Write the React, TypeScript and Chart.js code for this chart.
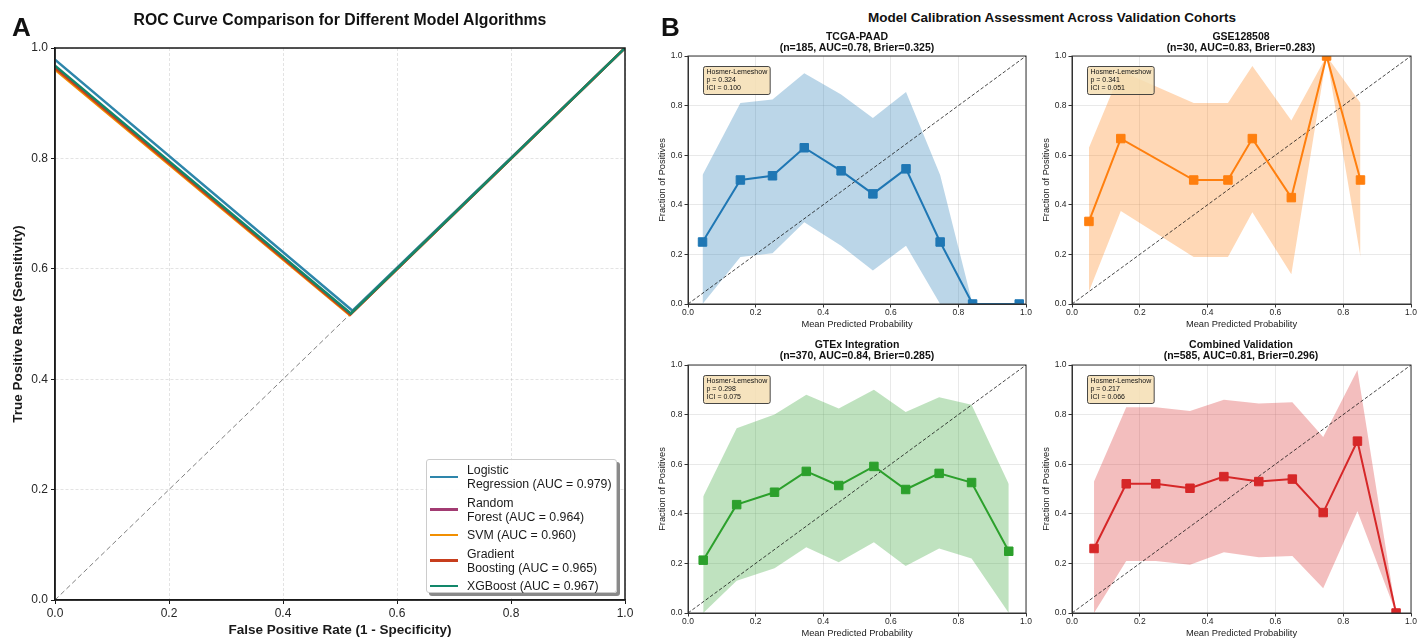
import React, { useEffect, useRef } from 'react';
import { Chart, registerables } from 'chart.js';

Chart.register(...registerables);

const FONT = '"Liberation Sans", Arial, Helvetica, sans-serif';
Chart.defaults.font.family = FONT;
Chart.defaults.color = '#262626';

// ---------------- Panel A : ROC data ----------------
const rocLegendLabels = [
  'Logistic\nRegression (AUC = 0.979)',
  'Random\nForest (AUC = 0.964)',
  'SVM (AUC = 0.960)',
  'Gradient\nBoosting (AUC = 0.965)',
  'XGBoost (AUC = 0.967)',
];
const rocColors = ['#2E86AB', '#A23B72', '#F18F01', '#C73E1D', '#12876A'];

const lrFPR = [0, 0.522, 1];
const lrTPR = [0.979, 0.524, 1];
const rfFPR = [0, 0.518, 1];
const rfTPR = [0.965, 0.518, 1];
const svmFPR = [0, 0.517, 1];
const svmTPR = [0.961, 0.516, 1];
const gbFPR = [0, 0.518, 1];
const gbTPR = [0.964, 0.517, 1];
const xgbFPR = [0, 0.519, 1];
const xgbTPR = [0.968, 0.519, 1];

const diagX = [0, 1];
const diagY = [0, 1];
const unitTicks = [0, 0.2, 0.4, 0.6, 0.8, 1.0];

// ---------------- Panel B : calibration data ----------------
const cohortNames = ['TCGA-PAAD', 'GSE128508', 'GTEx Integration', 'Combined Validation'];
const cohortN = [185, 30, 370, 585];
const cohortAUC = ['0.78', '0.83', '0.84', '0.81'];
const cohortBrier = ['0.325', '0.283', '0.285', '0.296'];
const hlP = ['0.324', '0.341', '0.298', '0.217'];
const hlICI = ['0.100', '0.051', '0.075', '0.066'];
const cohortColors = ['#1f77b4', '#ff7f0e', '#2ca02c', '#d62728'];
const cohortBands = ['rgba(31,119,180,0.3)', 'rgba(255,127,14,0.3)', 'rgba(44,160,44,0.3)', 'rgba(214,39,40,0.3)'];

const tcgaPred = [0.043, 0.155, 0.250, 0.344, 0.453, 0.547, 0.645, 0.746, 0.842, 0.980];
const tcgaFrac = [0.250, 0.500, 0.517, 0.630, 0.537, 0.444, 0.545, 0.250, 0.0, 0.0];
const tcgaLow = [0.0, 0.19, 0.205, 0.33, 0.235, 0.135, 0.235, 0.0, 0.0, 0.0];
const tcgaHigh = [0.52, 0.81, 0.825, 0.93, 0.845, 0.75, 0.855, 0.52, 0.0, 0.0];

const gsePred = [0.050, 0.144, 0.359, 0.460, 0.532, 0.647, 0.751, 0.851];
const gseFrac = [0.333, 0.667, 0.500, 0.500, 0.667, 0.429, 1.0, 0.500];
const gseLow = [0.05, 0.375, 0.19, 0.19, 0.37, 0.12, 1.0, 0.19];
const gseHigh = [0.63, 0.94, 0.81, 0.81, 0.96, 0.74, 1.0, 0.81];

const gtexPred = [0.045, 0.144, 0.256, 0.350, 0.446, 0.550, 0.644, 0.743, 0.839, 0.949];
const gtexFrac = [0.213, 0.437, 0.487, 0.571, 0.514, 0.591, 0.498, 0.563, 0.526, 0.249];
const gtexLow = [0.0, 0.13, 0.18, 0.265, 0.205, 0.285, 0.19, 0.26, 0.22, 0.0];
const gtexHigh = [0.47, 0.745, 0.80, 0.88, 0.825, 0.90, 0.81, 0.87, 0.84, 0.52];

const combPred = [0.065, 0.160, 0.247, 0.348, 0.448, 0.551, 0.650, 0.741, 0.842, 0.956];
const combFrac = [0.260, 0.521, 0.521, 0.503, 0.550, 0.530, 0.540, 0.405, 0.693, 0.0];
const combLow = [0.0, 0.21, 0.21, 0.195, 0.245, 0.225, 0.23, 0.10, 0.41, 0.0];
const combHigh = [0.53, 0.83, 0.83, 0.815, 0.86, 0.845, 0.85, 0.71, 0.98, 0.0];

const cohortPred = [tcgaPred, gsePred, gtexPred, combPred];
const cohortFrac = [tcgaFrac, gseFrac, gtexFrac, combFrac];
const cohortLow = [tcgaLow, gseLow, gtexLow, combLow];
const cohortHigh = [tcgaHigh, gseHigh, gtexHigh, combHigh];

// ---------------- helpers ----------------
const zip = (xs: number[], ys: number[]) => xs.map((x, i) => ({ x, y: ys[i] }));

const framePlugin = {
  id: 'frame',
  afterDatasetsDraw(chart: any, _args: any, opts: any) {
    const { ctx, chartArea: a } = chart;
    ctx.save();
    ctx.strokeStyle = opts.color || '#000';
    ctx.lineWidth = opts.width || 1;
    ctx.setLineDash([]);
    ctx.strokeRect(a.left, a.top, a.right - a.left, a.bottom - a.top);
    ctx.restore();
  },
};

const hlPlugin = {
  id: 'hlbox',
  afterDatasetsDraw(chart: any, _args: any, opts: any) {
    if (!opts || !opts.lines) return;
    const { ctx, chartArea: a } = chart;
    const lines: string[] = opts.lines;
    ctx.save();
    ctx.font = `7px ${FONT}`;
    const tw = Math.max(...lines.map((l) => ctx.measureText(l).width));
    const lh = 8;
    const w = tw + 6;
    const h = lines.length * lh + 4;
    const x = a.left + 15.5;
    const y = a.top + 10.5;
    const r = 2;
    ctx.beginPath();
    ctx.moveTo(x + r, y);
    ctx.lineTo(x + w - r, y);
    ctx.quadraticCurveTo(x + w, y, x + w, y + r);
    ctx.lineTo(x + w, y + h - r);
    ctx.quadraticCurveTo(x + w, y + h, x + w - r, y + h);
    ctx.lineTo(x + r, y + h);
    ctx.quadraticCurveTo(x, y + h, x, y + h - r);
    ctx.lineTo(x, y + r);
    ctx.quadraticCurveTo(x, y, x + r, y);
    ctx.closePath();
    ctx.fillStyle = 'rgba(245,222,179,0.85)';
    ctx.fill();
    ctx.strokeStyle = '#333';
    ctx.lineWidth = 0.9;
    ctx.stroke();
    ctx.fillStyle = '#111';
    ctx.textBaseline = 'top';
    lines.forEach((l, i) => ctx.fillText(l, x + 3, y + 2.5 + i * lh));
    ctx.restore();
  },
};

function makeAxis(opts: {
  size: number; horizontal: boolean; title: string; titleFont: any; titlePad: any;
  tickFont: number; tickLen: number; tickPad: number; gridColor: string; gridWidth: number;
  dash?: number[]; borderColor: string; borderWidth: number; tickColor: string;
}) {
  return {
    type: 'linear',
    min: 0,
    max: 1,
    afterFit: (s: any) => {
      if (opts.horizontal) s.height = opts.size;
      else s.width = opts.size;
    },
    afterBuildTicks: (s: any) => {
      s.ticks = unitTicks.map((v) => ({ value: v }));
    },
    ticks: {
      callback: (v: any) => Number(v).toFixed(1),
      font: { size: opts.tickFont },
      color: '#262626',
      padding: opts.tickPad,
      maxRotation: 0,
      autoSkip: false,
    },
    grid: {
      color: opts.gridColor,
      lineWidth: opts.gridWidth,
      tickColor: opts.tickColor,
      tickLength: opts.tickLen,
      tickWidth: 1,
    },
    border: {
      color: opts.borderColor,
      width: opts.borderWidth,
      dash: opts.dash || [],
    },
    title: {
      display: true,
      text: opts.title,
      font: opts.titleFont,
      color: '#1a1a1a',
      padding: opts.titlePad,
    },
  };
}

function ChartBox({ left, top, width, height, config }: any) {
  const ref = useRef<HTMLCanvasElement>(null);
  useEffect(() => {
    const chart = new Chart(ref.current as HTMLCanvasElement, config());
    return () => chart.destroy();
  }, []);
  return (
    <canvas
      ref={ref}
      width={width}
      height={height}
      style={{ position: 'absolute', left, top, width, height, display: 'block' }}
    />
  );
}

// ---------------- Panel A config ----------------
const rocFPRs = [lrFPR, rfFPR, svmFPR, gbFPR, xgbFPR];
const rocTPRs = [lrTPR, rfTPR, svmTPR, gbTPR, xgbTPR];

function rocConfig() {
  const lines = rocFPRs.map((f, i) => ({
    label: rocLegendLabels[i],
    data: zip(f, rocTPRs[i]),
    borderColor: rocColors[i],
    backgroundColor: rocColors[i],
    borderWidth: 2.5,
    pointRadius: 0,
    tension: 0,
    fill: false,
    order: rocFPRs.length - i,
  }));
  return {
    type: 'line',
    data: {
      datasets: [
        ...lines,
        {
          label: 'Random',
          data: zip(diagX, diagY),
          borderColor: 'rgba(0,0,0,0.5)',
          borderWidth: 1,
          borderDash: [5, 3],
          pointRadius: 0,
          fill: false,
          order: 20,
        },
      ],
    },
    options: {
      responsive: false,
      animation: false,
      events: [],
      layout: { padding: { left: 0, top: 48, right: 15, bottom: 0 } },
      plugins: {
        legend: { display: false },
        tooltip: { enabled: false },
        frame: { color: '#1a1a1a', width: 1.5 },
      },
      scales: {
        x: makeAxis({
          size: 40, horizontal: true, title: 'False Positive Rate (1 - Specificity)',
          titleFont: { size: 13.5, weight: 'bold' }, titlePad: { top: 0, bottom: 2 },
          tickFont: 12, tickLen: 4, tickPad: 2, gridColor: 'rgba(176,176,176,0.45)', gridWidth: 0.8,
          dash: [3, 2], borderColor: '#1a1a1a', borderWidth: 1.5, tickColor: '#1a1a1a',
        }),
        y: makeAxis({
          size: 55, horizontal: false, title: 'True Positive Rate (Sensitivity)',
          titleFont: { size: 13.5, weight: 'bold' }, titlePad: { top: 10, bottom: 0 },
          tickFont: 12, tickLen: 4, tickPad: 3, gridColor: 'rgba(176,176,176,0.45)', gridWidth: 0.8,
          dash: [3, 2], borderColor: '#1a1a1a', borderWidth: 1.5, tickColor: '#1a1a1a',
        }),
      },
    },
    plugins: [framePlugin],
  };
}

// ---------------- Panel B config ----------------
function calConfig(k: number, xAxisH: number, padTop: number, padRight: number, xTitlePad: number) {
  return () => ({
    type: 'line',
    data: {
      datasets: [
        {
          label: 'calibration',
          data: zip(cohortPred[k], cohortFrac[k]),
          borderColor: cohortColors[k],
          backgroundColor: cohortColors[k],
          borderWidth: 2,
          pointStyle: 'rect',
          pointRadius: 6,
          pointBorderWidth: 1,
          pointBorderColor: cohortColors[k],
          pointBackgroundColor: cohortColors[k],
          tension: 0,
          fill: false,
          order: 0,
        },
        {
          label: 'perfect',
          data: zip(diagX, diagY),
          borderColor: 'rgba(0,0,0,0.8)',
          borderWidth: 0.9,
          borderDash: [3.5, 2],
          pointRadius: 0,
          fill: false,
          order: 1,
        },
        {
          label: 'ciHigh',
          data: zip(cohortPred[k], cohortHigh[k]),
          borderWidth: 0,
          borderColor: 'rgba(0,0,0,0)',
          backgroundColor: cohortBands[k],
          pointRadius: 0,
          fill: '+1',
          order: 2,
        },
        {
          label: 'ciLow',
          data: zip(cohortPred[k], cohortLow[k]),
          borderWidth: 0,
          borderColor: 'rgba(0,0,0,0)',
          pointRadius: 0,
          fill: false,
          order: 3,
        },
      ],
    },
    options: {
      responsive: false,
      animation: false,
      events: [],
      layout: { padding: { left: 0, top: padTop, right: padRight, bottom: 0 } },
      plugins: {
        legend: { display: false },
        tooltip: { enabled: false },
        frame: { color: '#333', width: 1 },
        hlbox: { lines: ['Hosmer-Lemeshow', `p = ${hlP[k]}`, `ICI = ${hlICI[k]}`] },
      },
      scales: {
        x: makeAxis({
          size: xAxisH, horizontal: true, title: 'Mean Predicted Probability',
          titleFont: { size: 9.3 }, titlePad: { top: 0, bottom: xTitlePad },
          tickFont: 8.5, tickLen: 3.5, tickPad: 0.5, gridColor: 'rgba(176,176,176,0.35)', gridWidth: 0.8,
          borderColor: '#333', borderWidth: 1, tickColor: '#333',
        }),
        y: makeAxis({
          size: 48, horizontal: false, title: 'Fraction of Positives',
          titleFont: { size: 9.3 }, titlePad: { top: 16.5, bottom: 0 },
          tickFont: 8.5, tickLen: 3.5, tickPad: 2, gridColor: 'rgba(176,176,176,0.35)', gridWidth: 0.8,
          borderColor: '#333', borderWidth: 1, tickColor: '#333',
        }),
      },
    },
    plugins: [framePlugin, hlPlugin],
  });
}

const subLayout = [
  { left: 640, top: 40, width: 400, height: 292, xH: 28, padTop: 16, padRight: 14, xTitlePad: 1.5 },
  { left: 1024, top: 40, width: 394, height: 292, xH: 28, padTop: 16, padRight: 7, xTitlePad: 1.5 },
  { left: 640, top: 349, width: 400, height: 291, xH: 27, padTop: 16, padRight: 14, xTitlePad: 0.6 },
  { left: 1024, top: 349, width: 394, height: 291, xH: 27, padTop: 16, padRight: 7, xTitlePad: 0.6 },
];
const subTitlePos = [
  { cx: 857, y1: 36, y2: 47 },
  { cx: 1241, y1: 36, y2: 47 },
  { cx: 857, y1: 344, y2: 355 },
  { cx: 1241, y1: 344, y2: 355 },
];

function Txt({ cx, cy, size, bold, children, left }: any) {
  const w = 700;
  return (
    <div
      style={{
        position: 'absolute',
        left: left !== undefined ? left : cx - w / 2,
        top: cy - size * 0.6,
        width: left !== undefined ? undefined : w,
        textAlign: left !== undefined ? 'left' : 'center',
        fontSize: size,
        lineHeight: `${size * 1.2}px`,
        fontWeight: bold ? 700 : 400,
        whiteSpace: 'nowrap',
        color: '#111',
      }}
    >
      {children}
    </div>
  );
}

export default function App() {
  return (
    <div
      style={{
        position: 'fixed',
        left: 0,
        top: 0,
        width: 1418,
        height: 640,
        background: '#fff',
        fontFamily: FONT,
        overflow: 'hidden',
      }}
    >
      <ChartBox left={0} top={0} width={640} height={640} config={rocConfig} />
      {subLayout.map((s, k) => (
        <ChartBox
          key={k}
          left={s.left}
          top={s.top}
          width={s.width}
          height={s.height}
          config={calConfig(k, s.xH, s.padTop, s.padRight, s.xTitlePad)}
        />
      ))}

      <Txt left={12} cy={28} size={26} bold>A</Txt>
      <Txt cx={340} cy={20} size={15.8} bold>ROC Curve Comparison for Different Model Algorithms</Txt>
      <Txt left={661} cy={28} size={26} bold>B</Txt>
      <Txt cx={1052} cy={18} size={13.5} bold>Model Calibration Assessment Across Validation Cohorts</Txt>
      {subTitlePos.map((p, k) => (
        <React.Fragment key={k}>
          <Txt cx={p.cx} cy={p.y1} size={10.5} bold>{cohortNames[k]}</Txt>
          <Txt cx={p.cx} cy={p.y2} size={10.5} bold>
            {`(n=${cohortN[k]}, AUC=${cohortAUC[k]}, Brier=${cohortBrier[k]})`}
          </Txt>
        </React.Fragment>
      ))}

      {/* Legend for panel A */}
      <div
        style={{
          position: 'absolute',
          left: 426,
          top: 459,
          width: 191,
          height: 134,
          boxSizing: 'border-box',
          background: 'rgba(255,255,255,0.9)',
          border: '1px solid #cccccc',
          borderRadius: 3,
          boxShadow: '3px 3px 0 #8a8a8a',
          padding: '3px 0 0 3px',
        }}
      >
        {rocLegendLabels.map((lab, i) => (
          <div key={i} style={{ display: 'flex', alignItems: 'center', marginBottom: 4.5 }}>
            <div style={{ width: 28, height: 2.5, background: rocColors[i], marginRight: 9, flex: '0 0 auto' }} />
            <div style={{ fontSize: 12.3, lineHeight: '14px', whiteSpace: 'pre', color: '#1a1a1a' }}>{lab}</div>
          </div>
        ))}
      </div>
    </div>
  );
}
